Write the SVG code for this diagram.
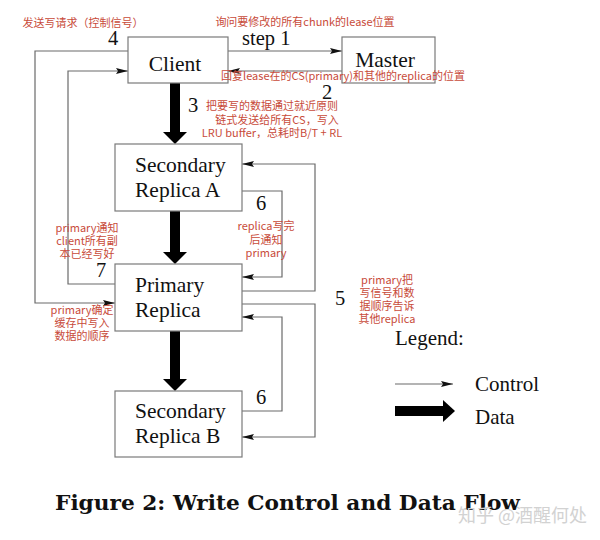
<svg xmlns="http://www.w3.org/2000/svg" width="600" height="540" viewBox="0 0 600 540">
<defs>
<style>
.box{fill:#fff;stroke:#7a7a7a;stroke-width:1.2}
.nt{font-family:"Liberation Serif","Times New Roman",serif;font-size:21.5px;fill:#111}
.num{font-family:"Liberation Serif","Times New Roman",serif;font-size:20.5px;fill:#111}
.lg{font-family:"Liberation Serif","Times New Roman",serif;font-size:21px;fill:#111}
.ctl{fill:none;stroke:#6a6a6a;stroke-width:1.2}
.ann{font-family:"Noto Sans CJK SC","Noto Sans",sans-serif;font-size:11px;fill:#c84b3a;text-anchor:middle}
.cap{font-family:"DejaVu Serif","Liberation Serif",serif;font-size:20px;font-weight:bold;fill:#111}
.wm{font-family:"Noto Sans CJK SC",sans-serif;font-size:18px;fill:#d2d2d2}
</style>
<marker id="ca" viewBox="0 0 12 6" refX="12" refY="3" markerWidth="12" markerHeight="6" markerUnits="userSpaceOnUse" orient="auto">
<path d="M0,0 L12,3 L0,6 L2,3 z" fill="#111"/>
</marker>
</defs>
<rect width="600" height="540" fill="#fff"/>

<g id="connectors">
<line class="ctl" x1="228" y1="51" x2="342" y2="51" marker-end="url(#ca)"/>
<line class="ctl" x1="342" y1="71" x2="228" y2="71" marker-end="url(#ca)"/>
<path class="ctl" d="M128,51 H35 V303 H115" marker-end="url(#ca)"/>
<path class="ctl" d="M115,284 H68 V71 H128" marker-end="url(#ca)"/>
<path class="ctl" d="M242,291 H315 V164 H242" marker-end="url(#ca)"/>
<path class="ctl" d="M242,191 H282 V277 H242" marker-end="url(#ca)"/>
<path class="ctl" d="M242,304 H315 V437 H242" marker-end="url(#ca)"/>
<path class="ctl" d="M242,411 H282 V317 H242" marker-end="url(#ca)"/>
<rect x="170" y="83" width="10" height="50" fill="#000"/>
<polygon points="163,132 187,132 175,144" fill="#000"/>
<rect x="170" y="211" width="10" height="42" fill="#000"/>
<polygon points="163,252 187,252 175,264" fill="#000"/>
<rect x="170" y="331" width="10" height="49" fill="#000"/>
<polygon points="163,379 187,379 175,391" fill="#000"/>
</g>

<g id="client">
<rect class="box" x="128" y="37" width="100" height="46"/>
<text class="nt" x="175" y="71" text-anchor="middle">Client</text>
</g>
<g id="master">
<rect class="box" x="342" y="37" width="93" height="46"/>
<text class="nt" x="385" y="67" text-anchor="middle">Master</text>
</g>
<g id="secondary-a">
<rect class="box" x="115" y="144" width="127" height="67"/>
<text class="nt" x="135" y="172">Secondary<tspan x="135" dy="25">Replica A</tspan></text>
</g>
<g id="primary">
<rect class="box" x="115" y="264" width="127" height="67"/>
<text class="nt" x="135" y="292">Primary<tspan x="135" dy="25">Replica</tspan></text>
</g>
<g id="secondary-b">
<rect class="box" x="115" y="391" width="127" height="66"/>
<text class="nt" x="135" y="418">Secondary<tspan x="135" dy="25">Replica B</tspan></text>
</g>

<g id="step-labels">
<text class="num" x="242" y="45">step 1</text>
<text class="num" x="327" y="99" text-anchor="middle">2</text>
<text class="num" x="193" y="112" text-anchor="middle">3</text>
<text class="num" x="113" y="45" text-anchor="middle">4</text>
<text class="num" x="340" y="305" text-anchor="middle">5</text>
<text class="num" x="261" y="210" text-anchor="middle">6</text>
<text class="num" x="261" y="404" text-anchor="middle">6</text>
<text class="num" x="101" y="277" text-anchor="middle">7</text>
</g>

<g id="annotations">
<text class="ann" x="83" y="27">发送写请求（控制信号）</text>
<text class="ann" x="305" y="26">询问要修改的所有chunk的lease位置</text>
<text class="ann" x="343" y="80">回复lease在的CS(primary)和其他的replica的位置</text>
<text class="ann" x="272" y="110">把要写的数据通过就近原则<tspan x="277" dy="13.5">链式发送给所有CS，写入</tspan><tspan x="272" dy="13.5">LRU buffer，总耗时B/T + RL</tspan></text>
<text class="ann" x="87" y="232">primary通知<tspan x="87" dy="13">client所有副</tspan><tspan x="87" dy="13">本已经写好</tspan></text>
<text class="ann" x="266" y="230">replica写完<tspan x="266" dy="13.5">后通知</tspan><tspan x="266" dy="13.5">primary</tspan></text>
<text class="ann" x="82" y="314">primary确定<tspan x="82" dy="13">缓存中写入</tspan><tspan x="82" dy="13">数据的顺序</tspan></text>
<text class="ann" x="387" y="284">primary把<tspan x="387" dy="13">写信号和数</tspan><tspan x="387" dy="13">据顺序告诉</tspan><tspan x="387" dy="13">其他replica</tspan></text>
</g>

<g id="legend">
<text class="lg" x="395" y="345">Legend:</text>
<line class="ctl" x1="395" y1="384" x2="453" y2="384" marker-end="url(#ca)"/>
<text class="lg" x="475" y="391">Control</text>
<rect x="395" y="406" width="49" height="10" fill="#000"/>
<polygon points="443,400 455,411 443,422" fill="#000"/>
<text class="lg" x="475" y="424">Data</text>
</g>

<text class="cap" x="55" y="510" textLength="465" lengthAdjust="spacingAndGlyphs">Figure 2:  Write Control and Data Flow</text>
<text class="wm" x="458" y="522">知乎 @酒醒何处</text>
</svg>
